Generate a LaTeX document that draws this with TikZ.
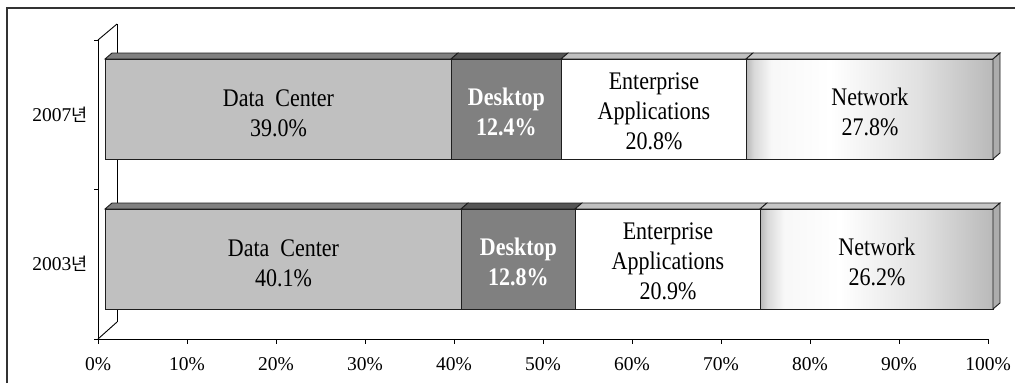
\documentclass[tikz,border=0pt]{standalone}
\usepackage{fontspec}
\usepackage{graphicx}
\setmainfont{Liberation Serif}
\newfontfamily\kr{Noto Sans CJK KR}
\definecolor{lgray}{RGB}{192,192,192}
\definecolor{mgray}{RGB}{128,128,128}
\definecolor{dgray}{RGB}{85,85,85}
\definecolor{edgecol}{RGB}{30,30,30}
\pgfdeclarehorizontalshading{netshade}{100bp}{color(0bp)=(gray!55); color(25bp)=(gray!55); color(26.5bp)=(white!85!black); color(30bp)=(white!97!black); color(42bp)=(white); color(60bp)=(white!88!black); color(75bp)=(gray!55); color(100bp)=(gray!55)}
\newcommand\barseg[6]{%
  \pgfmathsetmacro\segw{#3-#2}%
  \filldraw[edge, fill=#6] (#2,#4) -- (#2+7,#4-6) -- (#3+7,#4-6) -- (#3,#4) -- cycle;
  \node[seg, #5, minimum width=\segw pt] (#1) at (#2,#4) {};
}
\newcommand\tall[1]{\scalebox{1}[1.15]{\begin{tabular}{@{}c@{}}#1\end{tabular}}}
\begin{document}
\begin{tikzpicture}[x=1pt,y=-1pt,
  edge/.style={draw=edgecol, line width=0.9pt},
  seg/.style={edge, rectangle, minimum height=100pt, inner sep=0pt, anchor=north west},
  seglab/.style={inner sep=0pt, font=\fontsize{22}{26.1}\selectfont},
  desklab/.style={inner sep=0pt, text=white, font=\fontsize{22}{26.1}\selectfont\bfseries},
  axlab/.style={font=\fontsize{19.5}{23}\selectfont},
  axline/.style={draw=black, line width=0.9pt}]
\useasboundingbox (0,0) rectangle (1015,383);
\fill[white] (0,0) rectangle (1015,383);
\draw[line width=1.5pt, black!80] (7,383) -- (7,8) -- (1015,8);
% wall and axes
\coordinate (f0) at (98,40);
\coordinate (fb) at (98,339);
\coordinate (b0) at (117,24);
\coordinate (bb) at (117,322);
\coordinate (xend) at (988,339);
\draw[axline] (b0) -- (bb);
\draw[axline] (f0) -- (b0);
\draw[axline] (fb) -- (bb);
\draw[axline] (f0) -- (fb) -- (xend);
\foreach \yy in {40,189,339} \draw[axline] (94,\yy) -- (98,\yy);
\foreach \i in {0,...,10} {
  \pgfmathtruncatemacro\pc{10*\i}
  \draw[axline] (98+89*\i,339) -- (98+89*\i,344);
  \node[axlab] (p\i) at (98+89*\i,364) {\pc\%};
}
\node[axlab] (y07) at (60,115) {2007{\kr\fontsize{17.5}{20}\selectfont 년}};
\node[axlab] (y03) at (60,264) {2003{\kr\fontsize{17.5}{20}\selectfont 년}};
% 2007 bar
\barseg{dc07}{105}{451}{59}{fill=lgray}{mgray}
\barseg{dt07}{451}{561}{59}{fill=mgray}{dgray}
\barseg{ea07}{561}{746}{59}{fill=white}{lgray}
\barseg{nw07}{746}{993}{59}{shading=netshade}{gray!45}
\filldraw[edge, fill=gray!65] (993,59) -- (1000,53) -- (1000,153) -- (993,159) -- cycle;
% 2003 bar
\barseg{dc03}{105}{461}{209}{fill=lgray}{mgray}
\barseg{dt03}{461}{575}{209}{fill=mgray}{dgray}
\barseg{ea03}{575}{760}{209}{fill=white}{lgray}
\barseg{nw03}{760}{993}{209}{shading=netshade}{gray!45}
\filldraw[edge, fill=gray!65] (993,209) -- (1000,203) -- (1000,303) -- (993,309) -- cycle;
% labels
\node[seglab] (l1) at ([yshift=-6pt]dc07.center) {\tall{Data\ \ Center\\39.0\%}};
\node[desklab] (l2) at ([yshift=-5pt]dt07.center) {\tall{Desktop\\12.4\%}};
\node[seglab] (l3) at ([yshift=-4pt]ea07.center) {\tall{Enterprise\\Applications\\20.8\%}};
\node[seglab] (l4) at ([yshift=-5pt]nw07.center) {\tall{Network\\27.8\%}};
\node[seglab] (l5) at ([yshift=-6pt]dc03.center) {\tall{Data\ \ Center\\40.1\%}};
\node[desklab] (l6) at ([yshift=-5pt]dt03.center) {\tall{Desktop\\12.8\%}};
\node[seglab] (l7) at ([yshift=-4pt]ea03.center) {\tall{Enterprise\\Applications\\20.9\%}};
\node[seglab] (l8) at ([yshift=-5pt]nw03.center) {\tall{Network\\26.2\%}};
\end{tikzpicture}
\end{document}
